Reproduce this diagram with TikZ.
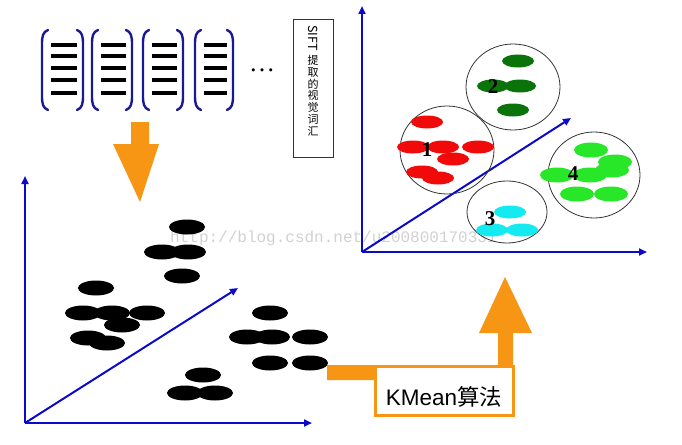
\documentclass[tikz,border=0pt]{standalone}
\usepackage{fontspec}
\setmainfont{Liberation Serif}
\newfontfamily\cjk{Noto Sans CJK SC}
\newfontfamily\arialf{Liberation Sans}
\newfontfamily\monof{Liberation Mono}
\usetikzlibrary{arrows.meta}
\definecolor{axblue}{RGB}{10,10,200}
\definecolor{brblue}{RGB}{25,25,150}
\definecolor{orng}{RGB}{247,150,20}
\definecolor{redp}{RGB}{240,10,10}
\definecolor{dgreen}{RGB}{10,115,10}
\definecolor{lgreen}{RGB}{40,230,40}
\definecolor{cyanp}{RGB}{20,235,240}
\tikzset{
  axis/.style={axblue, line width=2pt, -{Triangle[length=8pt,width=7pt]}},
  bra/.style={brblue, line width=2.4pt, line cap=round},
  bar/.style={black, line width=4.3pt},
  blob/.style={fill=black, draw=none},
  clus/.style={draw=black!80, line width=0.8pt},
  num/.style={font=\fontsize{21}{21}\selectfont\bfseries, inner sep=0pt},
}
\begin{document}
\begin{tikzpicture}[x=1pt, y=-1pt]
\useasboundingbox (0,0) rectangle (682,444);
% ---- brackets with bars
\foreach \xl/\xr in {42/83, 92/132, 143/183, 195/233}{
  \draw[bra] (\xl+6,30) .. controls (\xl+1,32) and (\xl,36) .. (\xl,44) -- (\xl,96) .. controls (\xl,104) and (\xl+1,108) .. (\xl+6,110);
  \draw[bra] (\xr-6,30) .. controls (\xr-1,32) and (\xr,36) .. (\xr,44) -- (\xr,96) .. controls (\xr,104) and (\xr-1,108) .. (\xr-6,110);
  \foreach \yy in {45,56,68,80,93}{
    \draw[bar] (\xl+9,\yy) -- (\xr-6,\yy);
  }
}
\node[font=\fontsize{26}{26}\selectfont, inner sep=0pt] (dots) at (262,70) {\ldots};
% ---- SIFT box
\node[draw=black!80, line width=0.8pt, minimum width=40pt, minimum height=138pt, inner sep=0pt] (sift) at (313,88) {};
\node[rotate=-90, anchor=west, font=\cjk\fontsize{12.5}{12.5}\selectfont, inner sep=0pt] (siftt) at (313,25) {SIFT};
\node[anchor=north, align=center, font=\cjk\fontsize{11}{11.8}\selectfont, inner sep=0pt] (siftc) at (313,55) {提\\取\\的\\视\\觉\\词\\汇};
% ---- orange down arrow
\fill[orng] (131,122) -- (149,122) -- (149,144) -- (159,144) -- (140,202) -- (113,144) -- (131,144) -- cycle;
% ---- left axes
\coordinate (lo) at (25,423);
\coordinate (ly) at (25,176);
\coordinate (lx) at (312,423);
\coordinate (ld) at (238,288);
\draw[axis] (lo) -- (ly);
\draw[axis] (lo) -- (lx);
\draw[axis] (lo) -- (ld);
% ---- watermark (faint, behind)
\node[font=\monof\fontsize{16}{16}\selectfont, text=black!18, inner sep=0pt, anchor=west] (wm) at (170,238) {http://blog.csdn.net/u200800170331};
% ---- black blobs
\foreach \cx/\cy in {187/227, 162/252, 188/252, 182/276, 96/288, 83/313, 112/313, 147/313, 122/325, 88/338, 107/343, 270/313, 247/337, 272/337, 310/337, 270/363, 310/363, 203/375, 185/393, 215/393}{
  \fill[blob] (\cx,\cy) ellipse [x radius=18, y radius=7.5];
}
% ---- orange elbow arrow with KMean box
\fill[orng] (327,365) -- (498,365) -- (498,333) -- (479,333) -- (505,277) -- (532,333) -- (513,333) -- (513,380) -- (327,380) -- cycle;
\node[draw=orng, line width=3pt, fill=white, minimum width=138pt, minimum height=49pt, inner sep=0pt] (km) at (444,391) {};
\node[font=\fontsize{22.5}{22.5}\selectfont, inner sep=0pt] (kmt) at (444,397) {\arialf KMean\cjk 算法};
% ---- right axes
\coordinate (ro) at (362,252);
\coordinate (ry) at (362,6);
\coordinate (rx) at (647,252);
\coordinate (rd) at (571,118);
\draw[axis] (ro) -- (ry);
\draw[axis] (ro) -- (rx);
\draw[axis] (ro) -- (rd);
% ---- cluster circles
\draw[clus] (447,150) ellipse [x radius=47, y radius=44];
\draw[clus] (513,87) ellipse [x radius=47, y radius=43];
\draw[clus] (507,212) ellipse [x radius=40, y radius=31];
\draw[clus] (594,175) ellipse [x radius=46, y radius=43];
% ---- coloured blobs
\foreach \cx/\cy in {427/122, 413/147, 443/147, 478/147, 453/159, 422/172, 438/178}{
  \fill[redp] (\cx,\cy) ellipse [x radius=16, y radius=6.5];
}
\foreach \cx/\cy in {518/61, 493/86, 520/86, 513/110}{
  \fill[dgreen] (\cx,\cy) ellipse [x radius=16, y radius=6.5];
}
\foreach \cx/\cy in {510/212, 492/230, 522/230}{
  \fill[cyanp] (\cx,\cy) ellipse [x radius=16, y radius=6.5];
}
\foreach \cx/\cy in {591/150, 615/162, 612/170, 557/175, 590/175, 577/194, 611/194}{
  \fill[lgreen] (\cx,\cy) ellipse [x radius=17, y radius=7.5];
}
\node[num] (n1) at (427,150) {1};
\node[num] (n2) at (493,87) {2};
\node[num] (n3) at (490,219) {3};
\node[num] (n4) at (573,174) {4};
\end{tikzpicture}
\end{document}
